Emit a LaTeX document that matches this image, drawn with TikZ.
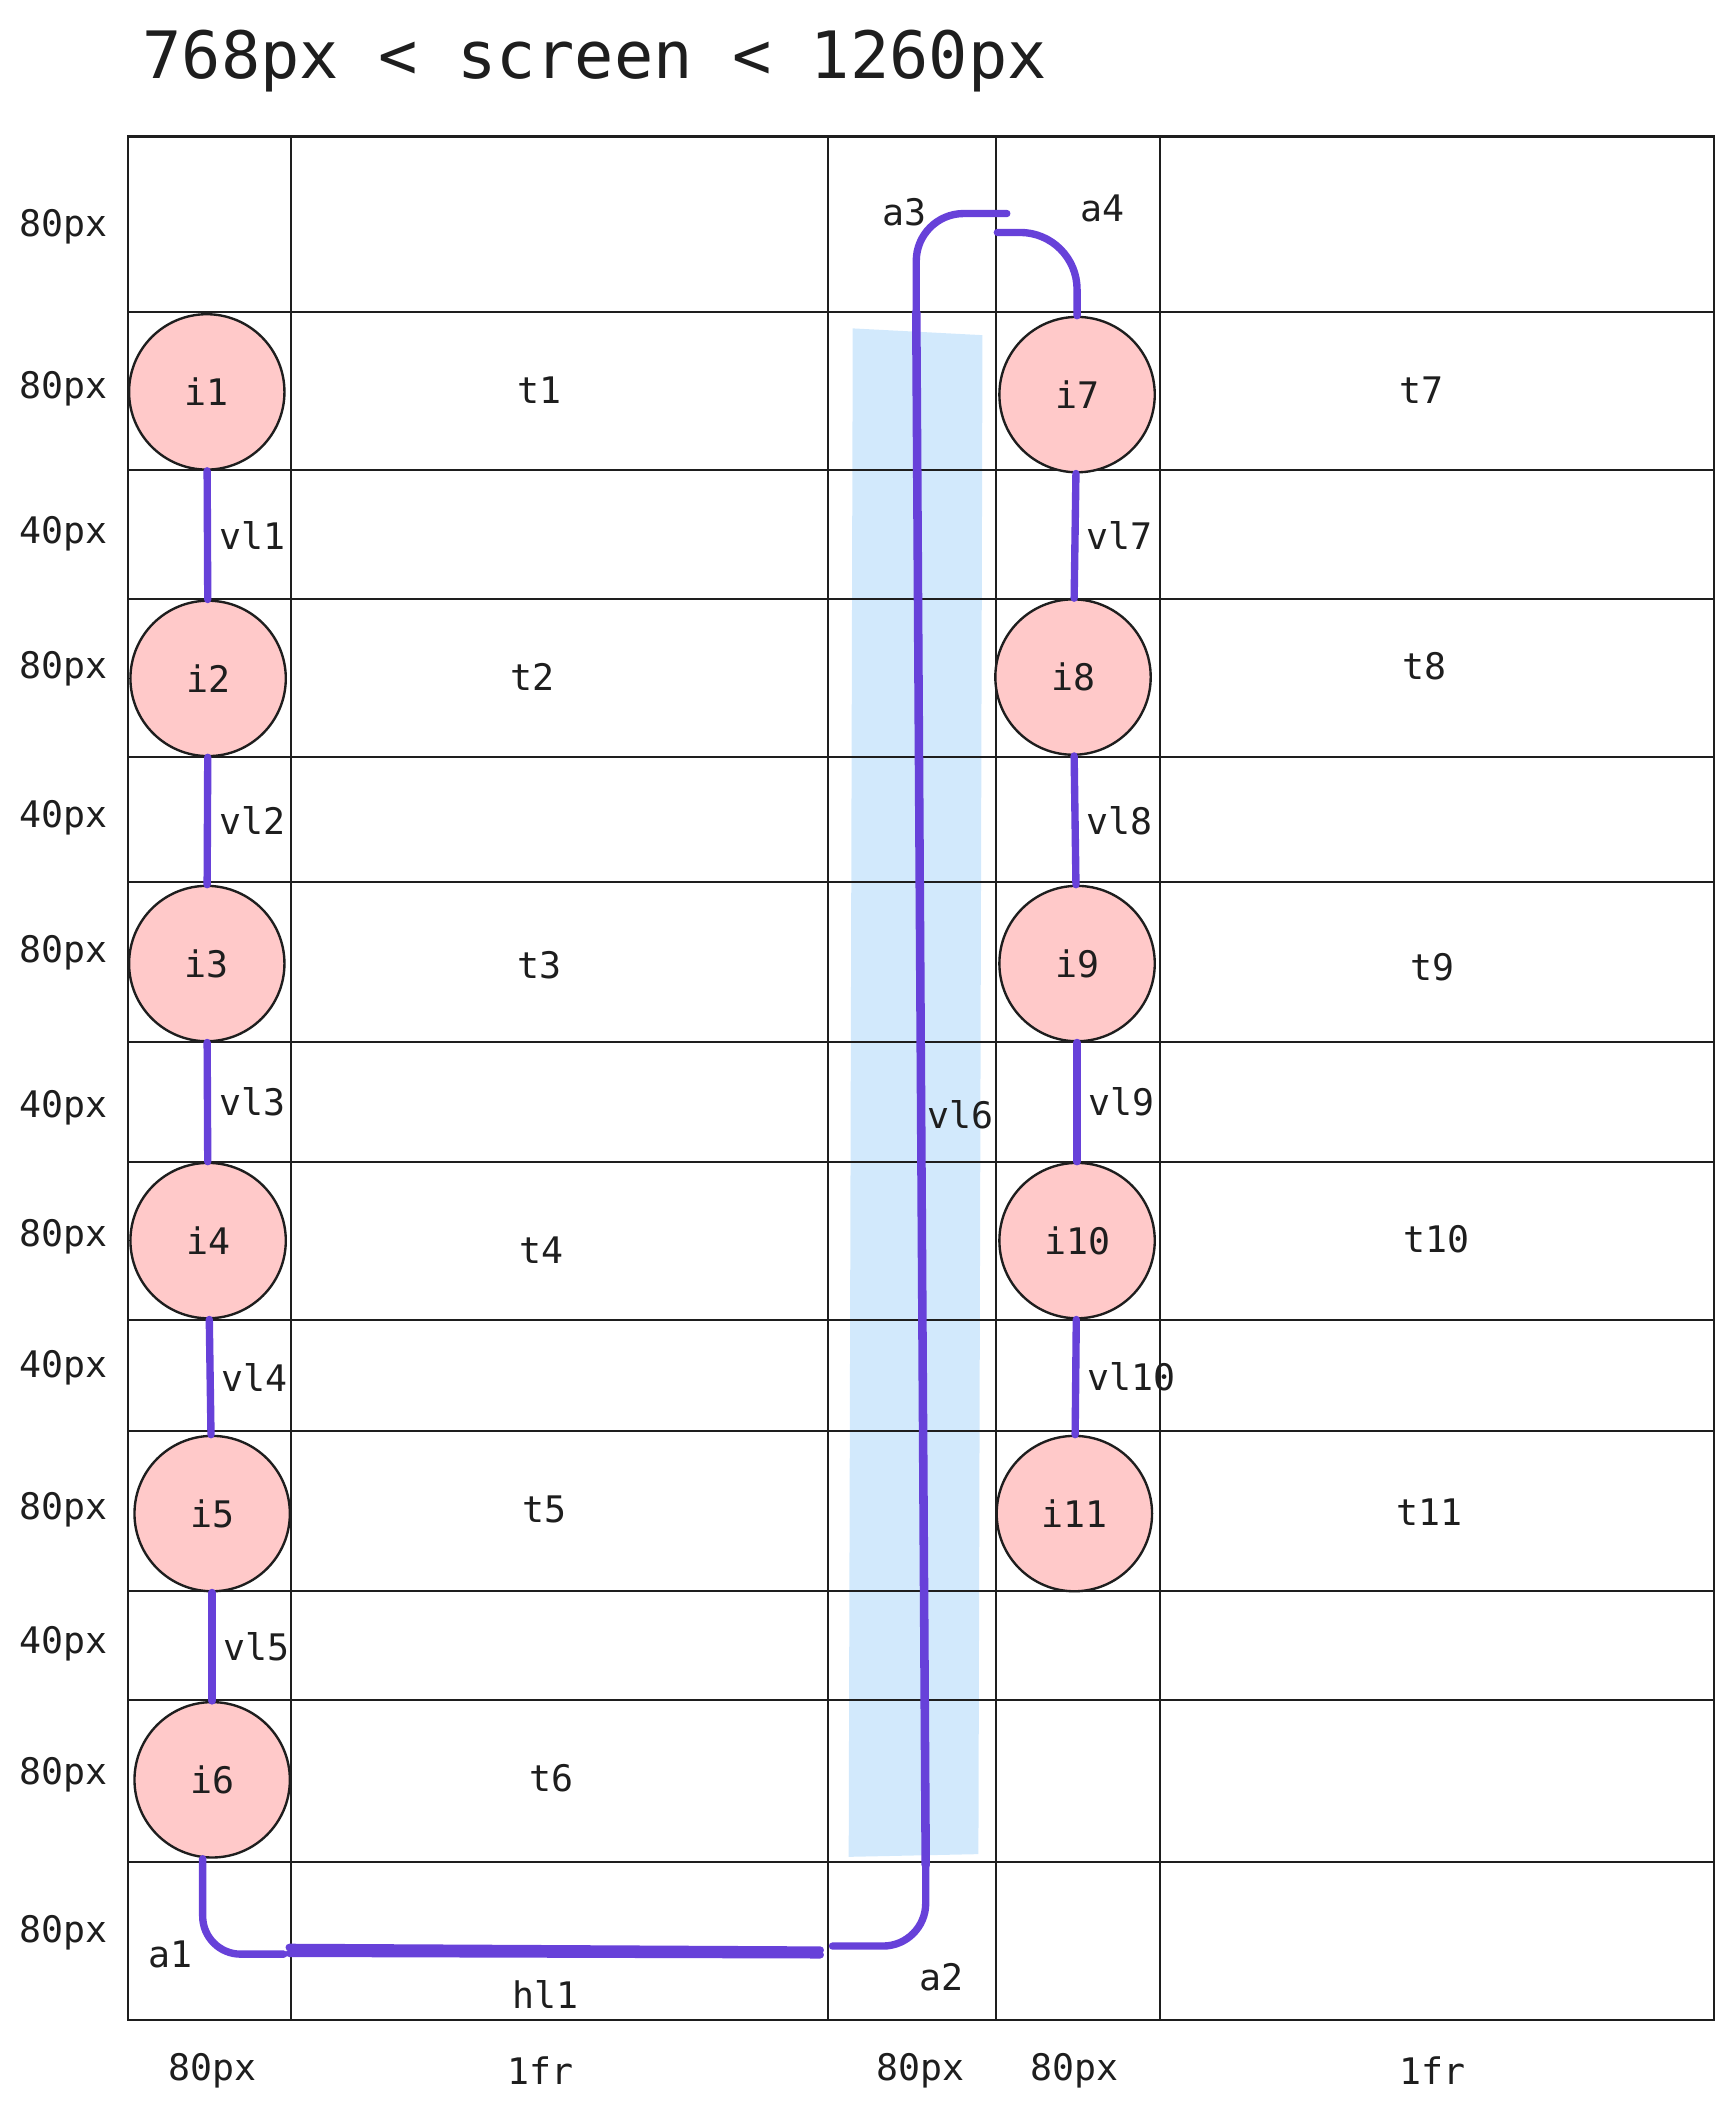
\documentclass[tikz,border=0pt]{standalone}
\usepackage{fontspec}
\setmainfont{DejaVu Sans Mono}

\definecolor{linkviolet}{HTML}{6741D9}
\definecolor{itempink}{HTML}{FFC9C9}
\definecolor{bandblue}{HTML}{D2E9FC}
\definecolor{ink}{HTML}{1E1E1E}

\begin{document}
\begin{tikzpicture}[
        x=0.02cm, y=-0.02cm,
        grid/.style={
            ink, line width=0.85pt
        },
        item/.style={
            circle, draw=ink, line width=1pt, fill=itempink,
            minimum size=2.3cm, inner sep=0pt, text=ink,
            font=\fontsize{15.4}{18}\selectfont
        },
        lbl/.style={
            text=ink, font=\fontsize{15.4}{18}\selectfont
        },
        link/.style={
            linkviolet, line width=3.1pt, line cap=round
        }
    ]
    \useasboundingbox (0,0) rectangle (1283,1568);

    \node[text=ink, font=\fontsize{27.5}{32}\selectfont] (title) at (440,45) {768px < screen < 1260px};

    % band behind vl6
    \fill[bandblue] (631,243) -- (727,248) -- (724,1372) -- (628,1374) -- cycle;

    % grid
    \draw[grid] (95,101) rectangle (1268,1495);
    \foreach \x in {215,613,737,858}
        \draw[grid] (\x,101) -- (\x,1495);
    \foreach \y in {231,348,443,560,653,771,860,977,1059,1177,1258,1378}
        \draw[grid] (95,\y) -- (1268,\y);

    \foreach \y/\h in {168/80,288/80,395/40,495/80,605/40,705/80,820/40,915/80,1012/40,1117/80,1216/40,1313/80,1430/80}
        \node[lbl] (row-\y) at (47,\y) {\h px};
    \foreach \x/\w in {157/80px,400/1fr,681/80px,795/80px,1060/1fr}
        \node[lbl] (col-\x) at (\x,1532) {\w};

    % items and texts
    \foreach \n/\x/\y in {1/153/290,2/154/502,3/153/713,4/154/918,5/157/1120,6/157/1317,
                          7/797/292,8/794/501,9/797/713,10/797/918,11/795/1120}
        \node[item] (i\n) at (\x,\y) {i\n};
    \foreach \n/\x/\y in {1/399/289,2/394/501,3/399/714,4/401/925,5/403/1117,6/408/1316,
                          7/1052/289,8/1054/493,9/1060/716,10/1063/917,11/1058/1119}
        \node[lbl] (t\n) at (\x,\y) {t\n};

    % vertical links
    \foreach \a/\b in {1/2,2/3,3/4,4/5,5/6,7/8,8/9,9/10,10/11}
        \draw[link] (i\a) -- (i\b) node[lbl, midway, right] (vl\a) {vl\a};

    % the long way round
    \coordinate (a1e) at (210,1446);
    \coordinate (hl1s) at (214,1441);
    \coordinate (hl1e) at (607,1443);
    \coordinate (a2s) at (616,1440);
    \coordinate (v6b) at (685,1380);
    \coordinate (v6t) at (678,231);
    \coordinate (a3e) at (745,158);
    \coordinate (a4s) at (738,172);

    \draw[link, rounded corners=16pt] ([xshift=-4pt]i6.south) |- (a1e);
    \draw[link] (hl1s) -- (hl1e);
    \draw[link] ([yshift=-2.5pt]hl1s) -- ([yshift=-2pt]hl1e);
    \draw[link, rounded corners=18pt] (a2s) -| (v6b);
    \draw[link, line width=3.6pt] (v6b) -- (v6t);
    \draw[link, rounded corners=20pt] (v6t) |- (a3e);
    \draw[link, rounded corners=24pt] (a4s) -| (i7.north);

    \node[lbl] (a1) at (126,1446) {a1};
    \node[lbl] (hl1) at (404,1476) {hl1};
    \node[lbl] (a2) at (697,1463) {a2};
    \node[lbl] (vl6) at (711,825) {vl6};
    \node[lbl] (a3) at (669,157) {a3};
    \node[lbl] (a4) at (816,154) {a4};
\end{tikzpicture}
\end{document}
